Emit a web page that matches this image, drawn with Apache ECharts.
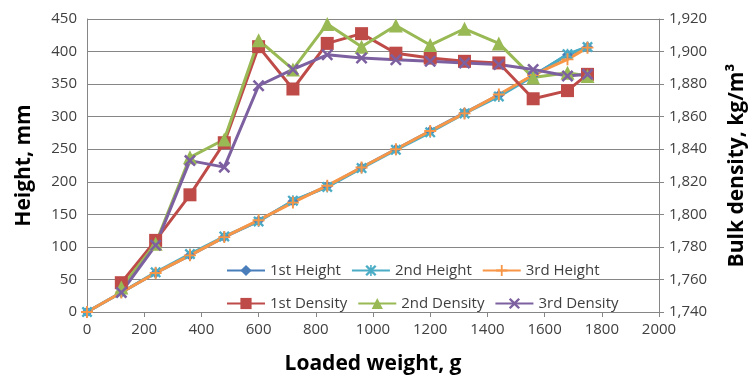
<!DOCTYPE html>
<html>
<head>
<meta charset="utf-8">
<script src="https://cdn.jsdelivr.net/npm/echarts@6/dist/echarts.min.js"></script>
<style>
html,body{margin:0;padding:0;background:#fff;}
#main{width:756px;height:384px;}
</style>
</head>
<body>
<div id="main"></div>
<script>
// loaded weight, g
var weights = [0, 120, 240, 360, 480, 600, 720, 840, 960, 1080, 1200, 1320, 1440, 1560, 1680, 1750];
// heights, mm
var height1 = [0, 30, 60, 87, 115, 140, 170, 193, 222, 250, 278, 306, 333, 363, 395, 407];
var height2 = [0, 30, 61, 89, 116, 139, 171, 192, 221, 249, 276, 305, 331, 362, 396, 407];
var height3 = [0, 30, 60, 87, 115, 141, 168, 194, 222, 250, 278, 305, 334, 364, 388, 406];
// bulk density, kg/m3 (no value at 0 g)
var density1 = [null, 1758, 1784, 1812, 1844, 1903, 1877, 1905, 1911, 1899, 1896, 1894, 1893, 1871, 1876, 1886];
var density2 = [null, 1755, 1782, 1835, 1846, 1907, 1889, 1917, 1903, 1916, 1904, 1914, 1905, 1884, 1887, 1885];
var density3 = [null, 1752, 1781, 1833, 1829, 1879, 1889, 1898, 1896, 1895, 1894, 1893, 1892, 1889, 1885, 1886];

var FONT = '"Open Sans", "Liberation Sans", sans-serif';
var symX = 'path://M0,1.5 L1.5,0 L5,3.5 L8.5,0 L10,1.5 L6.5,5 L10,8.5 L8.5,10 L5,6.5 L1.5,10 L0,8.5 L3.5,5 Z';
var symPlus = 'path://M4.2,0 H5.8 V4.2 H10 V5.8 H5.8 V10 H4.2 V5.8 H0 V4.2 H4.2 Z';
var symStar = 'path://M0,1.5 L1.5,0 L5,3.5 L8.5,0 L10,1.5 L6.5,5 L10,8.5 L8.5,10 L5,6.5 L1.5,10 L0,8.5 L3.5,5 Z M4.3,0 H5.7 V10 H4.3 Z';

function pairs(ys){
	var out = [];
	for(var i=0;i<weights.length;i++){
		if(ys[i] !== null) out.push([weights[i], ys[i]]);
	}
	return out;
}

function line(name, ys, color, symbol, size, axis){
	return {
		name: name,
		type: 'line',
		yAxisIndex: axis,
		data: pairs(ys),
		symbol: symbol,
		symbolSize: size,
		lineStyle: {color: color, width: 3},
		itemStyle: {color: color},
		emphasis: {disabled: true},
		animation: false
	};
}

var myChart = echarts.init(document.getElementById('main'));
var option = {
	textStyle: {fontFamily: FONT},
	grid: {left: 87, right: 93, top: 19, bottom: 72},
	legend: [{
		data: ['1st Height', '2nd Height', '3rd Height'],
		left: 221, top: 258,
		itemWidth: 38, itemHeight: 14, itemGap: 10,
		textStyle: {fontSize: 15, color: '#404040', width: 100, fontFamily: FONT}
	}, {
		data: ['1st Density', '2nd Density', '3rd Density'],
		left: 221, top: 291,
		itemWidth: 38, itemHeight: 14, itemGap: 10,
		textStyle: {fontSize: 15, color: '#404040', width: 100, fontFamily: FONT}
	}],
	xAxis: {
		type: 'value', min: 0, max: 2000, interval: 200,
		name: 'Loaded weight, g', nameLocation: 'middle', nameGap: 42,
		nameTextStyle: {fontSize: 21, fontWeight: 'bold', color: '#000', fontFamily: FONT},
		axisLine: {lineStyle: {color: '#868686', width: 1}},
		axisTick: {show: true, length: 5, lineStyle: {color: '#868686'}},
		axisLabel: {fontSize: 15, color: '#404040', margin: 10,
			formatter: function(v){ return String(v); }},
		splitLine: {show: false}
	},
	yAxis: [{
		type: 'value', min: 0, max: 450, interval: 50,
		name: 'Height, mm', nameLocation: 'middle', nameGap: 52, nameRotate: 90,
		nameTextStyle: {fontSize: 21, fontWeight: 'bold', color: '#000', fontFamily: FONT},
		axisLine: {show: true, lineStyle: {color: '#868686'}},
		axisTick: {show: false},
		axisLabel: {fontSize: 15, color: '#404040', margin: 10},
		splitLine: {lineStyle: {color: '#868686', width: 1}}
	}, {
		type: 'value', min: 1740, max: 1920, interval: 20, position: 'right',
		name: 'Bulk density, kg/m³', nameLocation: 'middle', nameGap: 68, nameRotate: 90,
		nameTextStyle: {fontSize: 21, fontWeight: 'bold', color: '#000', fontFamily: FONT},
		axisLine: {show: true, lineStyle: {color: '#868686'}},
		axisTick: {show: true, length: 5, lineStyle: {color: '#868686'}},
		axisLabel: {fontSize: 15, color: '#404040', margin: 10,
			formatter: function(v){ return echarts.format.addCommas(v); }},
		splitLine: {show: false}
	}],
	series: [
		line('1st Height', height1, '#4A7EBB', 'diamond', 11, 0),
		line('2nd Height', height2, '#4BACC6', symStar, 11, 0),
		line('3rd Height', height3, '#F79646', symPlus, 12, 0),
		line('1st Density', density1, '#BE4B48', 'rect', 13, 1),
		line('2nd Density', density2, '#98B954', 'triangle', 14, 1),
		line('3rd Density', density3, '#7D60A0', symX, 12, 1)
	]
};
myChart.setOption(option);
</script>
</body>
</html>
